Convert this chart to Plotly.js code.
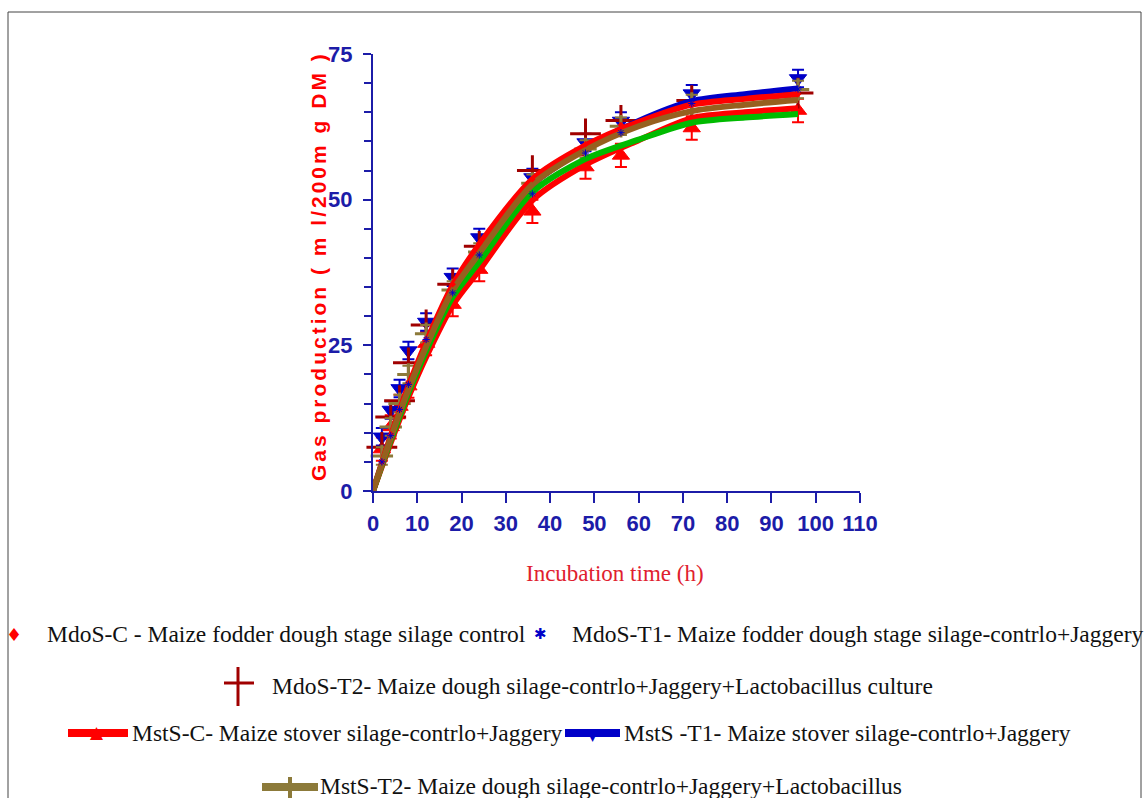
<!DOCTYPE html>
<html>
<head>
<meta charset="utf-8">
<script src="https://cdn.plot.ly/plotly-3.0.1.min.js"></script>
<style>
  html, body { margin: 0; padding: 0; background: #ffffff; }
  #chart { width: 1144px; height: 798px; }
  g.annotation[data-index="0"] text { letter-spacing: 3px; }
</style>
</head>
<body>
<div id="chart"></div>
<script>
// ---- data ----
const hours = [2, 4, 6, 8, 12, 18, 24, 36, 48, 56, 72, 96];
const mdosC  = [5.0, 9.8, 14.0, 18.5, 26.0, 35.5, 42.5, 53.5, 59.5, 62.8, 66.3, 68.1];
const mdosT1 = [5.0, 9.5, 14.0, 18.3, 26.0, 34.0, 40.5, 51.0, 58.0, 61.5, 66.5, 69.0];
const mdosT2 = [7.5, 12.7, 15.5, 22.0, 28.5, 35.5, 42.0, 55.0, 61.3, 63.6, 67.0, 68.3];
const mstsC  = [7.2, 11.0, 14.5, 18.0, 25.3, 32.0, 38.0, 48.0, 55.6, 57.6, 62.3, 65.3];
const mstsT1 = [9.3, 13.9, 17.6, 24.1, 29.0, 36.7, 43.5, 53.8, 59.8, 63.5, 68.2, 70.8];
const mstsT2 = [6.0, 11.0, 15.0, 20.0, 27.0, 34.5, 41.0, 52.8, 58.7, 62.6, 66.5, 68.9];

const fitHours  = [0, 2, 4, 6, 8, 12, 18, 24, 36, 48, 60, 72, 84, 96];
const fitBlue   = [0, 4.6, 9.1, 13.4, 17.5, 25.0, 34.5, 41.3, 52.6, 58.8, 63.5, 66.9, 68.1, 69.1];
const fitRedTop = [0, 4.8, 9.4, 13.8, 18.0, 25.5, 35.3, 42.3, 53.5, 59.3, 63.3, 66.3, 67.3, 68.1];
const fitBrown  = [0, 4.6, 9.1, 13.4, 17.4, 24.8, 34.4, 40.8, 52.6, 58.5, 62.6, 65.2, 66.3, 67.1];
const fitRedLow = [0, 4.2, 8.3, 12.3, 16.1, 23.0, 31.9, 37.9, 49.9, 56.0, 60.2, 64.0, 65.0, 65.7];
const fitGreen  = [0, 4.4, 8.7, 12.8, 16.8, 24.0, 33.3, 39.3, 51.3, 57.0, 60.3, 63.2, 64.1, 64.7];

const xTicks = [0, 10, 20, 30, 40, 50, 60, 70, 80, 90, 100, 110];
const yTicks = [0, 25, 50, 75];

const legendLabels = [
  'MdoS-C - Maize fodder dough stage silage control',
  'MdoS-T1- Maize fodder dough stage silage-contrlo+Jaggery',
  'MdoS-T2- Maize dough silage-contrlo+Jaggery+Lactobacillus culture',
  'MstS-C- Maize stover silage-contrlo+Jaggery',
  'MstS -T1- Maize stover silage-contrlo+Jaggery',
  'MstS-T2- Maize dough silage-contrlo+Jaggery+Lactobacillus'
];

// ---- colours / layout helpers ----
const RED = '#ff0000', BLUE = '#0000c8', DRED = '#a00000', OLIVE = '#8c7a3a',
      BROWN = '#96601f', GREEN = '#00bb00', AXIS = '#1c1ca8';
const L = 373, R = 860, T = 54, B = 491;
const px = v => (v - L) / (R - L);
const py = v => (B - v) / (B - T);

function markerTrace(y, symbol, color, size, lw, err) {
  const t = {
    x: hours, y: y, type: 'scatter', mode: 'markers', showlegend: false,
    cliponaxis: false, hoverinfo: 'skip',
    marker: { symbol: symbol, size: size, color: color, line: { color: color, width: lw } }
  };
  if (err) t.error_y = { type: 'constant', value: err, color: color, thickness: 2, width: 6 };
  return t;
}
function fitTrace(y, color) {
  return {
    x: fitHours, y: y, type: 'scatter', mode: 'lines', showlegend: false,
    cliponaxis: false, hoverinfo: 'skip',
    line: { color: color, width: 6, shape: 'spline', smoothing: 0.8 }
  };
}

const traces = [
  markerTrace(mstsC, 'triangle-up', RED, 15, 1, 2.0),
  markerTrace(mstsT1, 'triangle-down', BLUE, 15, 1, 1.5),
  markerTrace(mdosT2, 'cross-thin', DRED, 22, 3, 0),
  markerTrace(mstsT2, 'cross-thin', OLIVE, 16, 3, 1.5),
  fitTrace(fitBlue, BLUE),
  fitTrace(fitRedTop, RED),
  fitTrace(fitRedLow, RED),
  fitTrace(fitGreen, GREEN),
  fitTrace(fitBrown, BROWN),
  markerTrace(mdosC, 'diamond', RED, 5, 0, 0),
  markerTrace(mdosT1, 'asterisk-open', BLUE, 6, 1, 0)
];

const serif = 'Liberation Serif, Times New Roman, serif';
const sans = 'Liberation Sans, Arial, sans-serif';

const annotations = [
  { text: 'Gas production ( m l/200m g DM )', x: px(318), y: py(266), xref: 'paper', yref: 'paper',
    textangle: -90, showarrow: false, xanchor: 'center', yanchor: 'middle',
    font: { family: sans, size: 21, color: RED, weight: 'bold' } },
  { text: 'Incubation time (h)', x: px(615), y: py(573), xref: 'paper', yref: 'paper',
    showarrow: false, xanchor: 'center', yanchor: 'middle',
    font: { family: serif, size: 23, color: '#e0202e' } }
];
const legendPos = [[45, 634], [570, 634], [270, 686], [130, 733], [622, 733], [318, 786]];
legendLabels.forEach((s, i) => annotations.push({
  text: s, x: px(legendPos[i][0]), y: py(legendPos[i][1]), xref: 'paper', yref: 'paper',
  showarrow: false, xanchor: 'left', yanchor: 'middle',
  font: { family: serif, size: 23.5, color: '#111111' }
}));
// legend glyphs
annotations.push(
  { text: '♦', x: px(14), y: py(634), xref: 'paper', yref: 'paper', showarrow: false,
    xanchor: 'center', yanchor: 'middle', font: { family: 'DejaVu Sans', size: 18, color: RED } },
  { text: '✱', x: px(540), y: py(634), xref: 'paper', yref: 'paper', showarrow: false,
    xanchor: 'center', yanchor: 'middle', font: { family: 'DejaVu Sans', size: 15, color: BLUE } },
  { text: '▲', x: px(97), y: py(732), xref: 'paper', yref: 'paper', showarrow: false,
    xanchor: 'center', yanchor: 'middle', font: { family: 'DejaVu Sans', size: 17, color: RED } },
  { text: '▼', x: px(593), y: py(734), xref: 'paper', yref: 'paper', showarrow: false,
    xanchor: 'center', yanchor: 'middle', font: { family: 'DejaVu Sans', size: 17, color: BLUE } }
);

function seg(x0, y0, x1, y1, color, w) {
  return { type: 'line', xref: 'paper', yref: 'paper', x0: px(x0), y0: py(y0), x1: px(x1), y1: py(y1),
           line: { color: color, width: w } };
}
const shapes = [
  // outer frame
  seg(8, 12, 1141, 12, '#444444', 1),
  seg(8, 12, 8, 810, '#444444', 1),
  seg(1141, 12, 1141, 810, '#444444', 1),
  // legend line symbols
  seg(238, 667, 238, 706, DRED, 3),
  seg(224, 683, 254, 683, DRED, 3),
  seg(68, 733, 128, 733, RED, 8),
  seg(565, 733, 620, 733, BLUE, 8),
  seg(262, 787, 318, 787, OLIVE, 8),
  seg(290, 777, 290, 798, OLIVE, 4)
];

const layout = {
  width: 1144, height: 798,
  margin: { l: L, r: 1144 - R, t: T, b: 798 - B, pad: 0 },
  paper_bgcolor: '#ffffff', plot_bgcolor: '#ffffff',
  showlegend: false,
  xaxis: {
    range: [0, 110], tickvals: xTicks, ticktext: xTicks.map(String),
    showgrid: false, zeroline: false, showline: true, linecolor: AXIS, linewidth: 2,
    ticks: 'outside', ticklen: 10, tickwidth: 2, tickcolor: AXIS,
    tickfont: { family: sans, size: 22, color: AXIS, weight: 'bold' }, ticklabelstandoff: 2
  },
  yaxis: {
    range: [0, 75], tickvals: yTicks, ticktext: yTicks.map(String),
    showgrid: false, zeroline: false, showline: true, linecolor: AXIS, linewidth: 2,
    ticks: 'outside', ticklen: 8, tickwidth: 2, tickcolor: AXIS,
    minor: { dtick: 5, ticks: 'outside', ticklen: 7, tickwidth: 2, tickcolor: AXIS },
    tickfont: { family: sans, size: 22, color: AXIS, weight: 'bold' }, ticklabelstandoff: 6
  },
  annotations: annotations,
  shapes: shapes
};

Plotly.newPlot('chart', traces, layout, { displayModeBar: false, staticPlot: true });
</script>
</body>
</html>
